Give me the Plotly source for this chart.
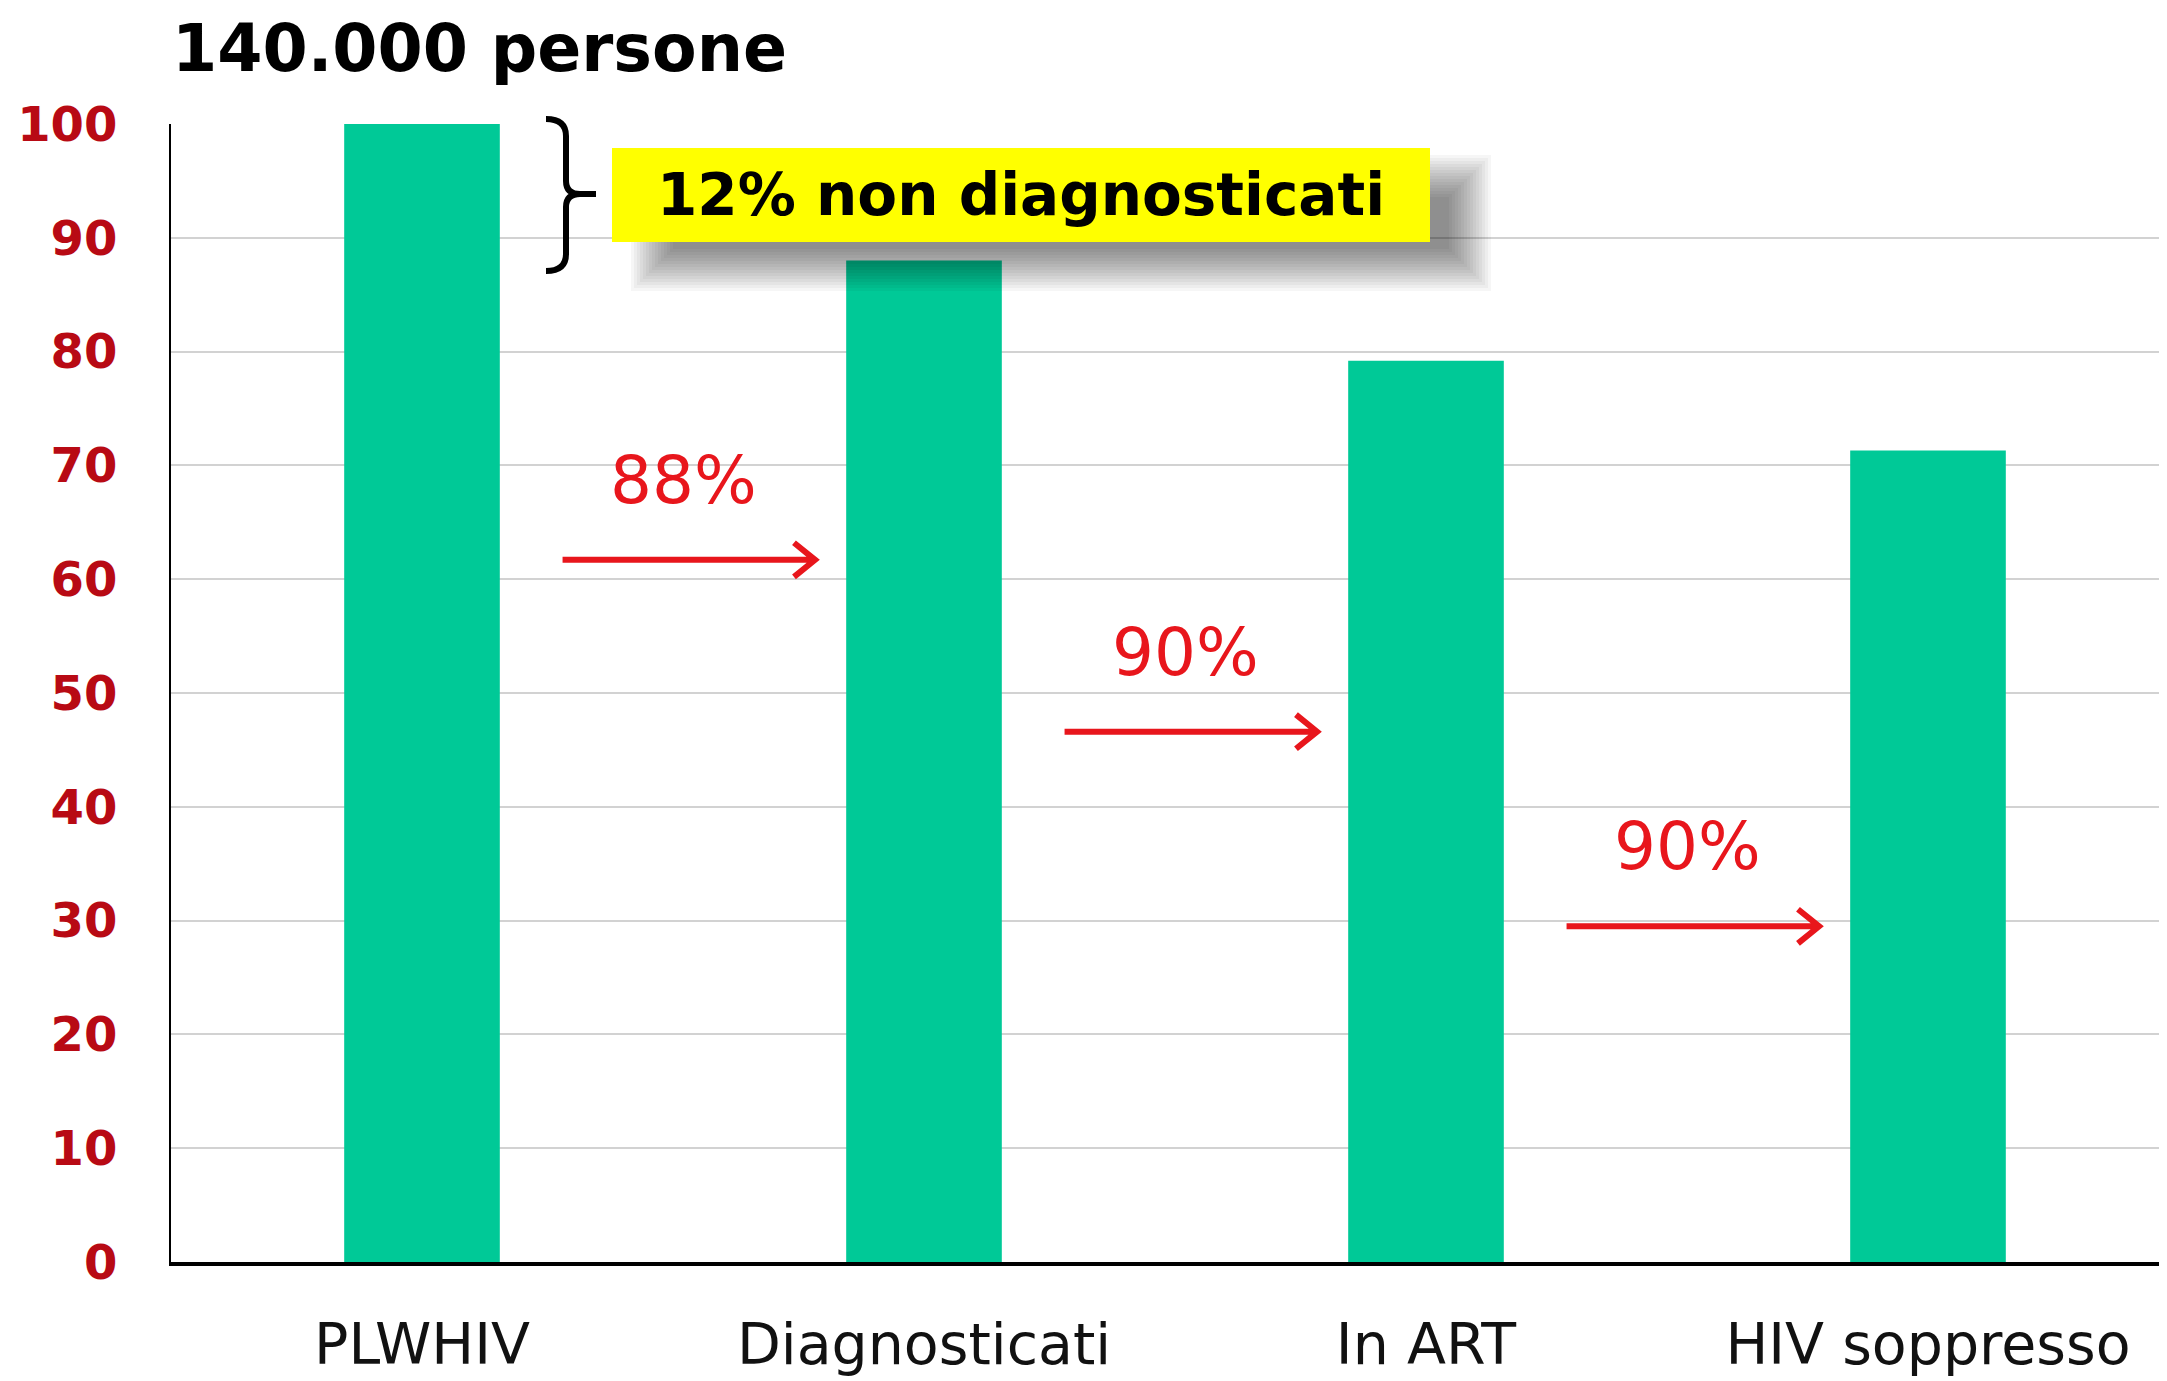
import plotly.graph_objects as go

# ---- data ----
categories = ["PLWHIV", "Diagnosticati", "In ART", "HIV soppresso"]
values = [100, 88, 79.2, 71.3]
y_tickvals = list(range(0, 101, 10))
title_text = "140.000 persone"
arrow_levels = [61.7, 46.6, 29.5]  # vertical placement of the step arrows

step_labels = [f"{round(values[i + 1] / values[i] * 100)}%" for i in range(len(values) - 1)]
gap_label = f"{round(100 - values[1] / values[0] * 100)}% non diagnosticati"

# ---- geometry (page pixels; the page body adds an 8px offset) ----
OFF = 8
W, H = 2167, 1381
PL, PT, PB = 171, 124, 1262          # plot area on the page
L, T, R = PL - OFF, PT - OFF, 0
B = H + OFF - PB
PW, PH = W - L - R, PB - PT
CAT_PX = 502                          # pixels per category band


def px(x):
    return (x - PL) / PW


def py(y):
    return (PB - y) / PH


BAR = "#00c997"
RED = "#e8161c"
FONT = "DejaVu Sans"

fig = go.Figure()
fig.add_trace(go.Bar(x=categories, y=values, marker=dict(color=BAR, line=dict(width=0)),
                     width=0.31, hoverinfo="skip"))

shapes = []
annotations = []

# Step arrows and labels
dx, dy = 0.042, 1.5
for i, (lvl, lab) in enumerate(zip(arrow_levels, step_labels)):
    x0, x1 = i + 0.28, i + 0.783
    shapes.append(dict(type="path", xref="x", yref="y",
                       path=f"M {x0},{lvl} L {x1},{lvl} M {x1 - dx},{lvl + dy} L {x1},{lvl} L {x1 - dx},{lvl - dy}",
                       line=dict(color=RED, width=6)))
    annotations.append(dict(x=i + 0.52, y=lvl + 7, xref="x", yref="y", text=lab, showarrow=False,
                            font=dict(family=FONT, size=66, color=RED), xanchor="center", yanchor="middle"))

# Soft shadow of the yellow box (layered rectangles emulate a blur)
bx0, by0, bx1, by1 = 612, 148, 1430, 242
sdx, sdy = 40, 28
for e in range(-21, 22, 3):
    shapes.append(dict(type="rect", xref="paper", yref="paper", layer="above",
                       x0=px(bx0 + sdx - e), x1=px(bx1 + sdx + e),
                       y0=py(by1 + sdy + e), y1=py(by0 + sdy - e),
                       fillcolor="rgba(0,0,0,0.036)", line=dict(width=0)))
# Yellow box
shapes.append(dict(type="rect", xref="paper", yref="paper", layer="above",
                   x0=px(bx0), x1=px(bx1), y0=py(by1), y1=py(by0),
                   fillcolor="#ffff00", line=dict(width=0)))
annotations.append(dict(x=px((bx0 + bx1) / 2), y=py((by0 + by1) / 2), xref="paper", yref="paper",
                        text=f"<b>{gap_label}</b>", showarrow=False,
                        font=dict(family=FONT, size=58, color="black"),
                        xanchor="center", yanchor="middle"))

# Curly bracket
pts = lambda x, y: f"{px(x)},{py(y)}"
brace = (f"M {pts(546, 119)} Q {pts(566, 119)} {pts(566, 136)} L {pts(566, 181)} "
         f"Q {pts(566, 194)} {pts(580, 194)} L {pts(596, 194)} "
         f"M {pts(580, 194)} Q {pts(566, 194)} {pts(566, 207)} L {pts(566, 254)} "
         f"Q {pts(566, 271)} {pts(546, 271)}")
shapes.append(dict(type="path", xref="paper", yref="paper", path=brace, layer="above",
                   line=dict(color="black", width=6)))

# Title
annotations.append(dict(x=px(170), y=py(48), xref="paper", yref="paper", text=f"<b>{title_text}</b>",
                        showarrow=False, font=dict(family=FONT, size=65, color="black"),
                        xanchor="left", yanchor="middle"))

fig.update_layout(
    width=W, height=H,
    margin=dict(l=L, r=R, t=T, b=B, autoexpand=False),
    paper_bgcolor="white", plot_bgcolor="white",
    showlegend=False,
    shapes=shapes, annotations=annotations,
    xaxis=dict(range=[-0.5, -0.5 + PW / CAT_PX], showline=True, linecolor="black", linewidth=4,
               showgrid=False, ticks="", ticklabelstandoff=30, automargin=False,
               tickfont=dict(family=FONT, size=57, color="#111111")),
    yaxis=dict(range=[0, 100], tickvals=y_tickvals, showline=True, linecolor="black", linewidth=2,
               showgrid=True, gridcolor="#d2d2d2", gridwidth=2, zeroline=False, ticks="",
               ticklabelstandoff=42, automargin=False,
               tickfont=dict(family=FONT, size=48, color="#b80a14", weight="bold")),
)

fig.write_html("out.html")
